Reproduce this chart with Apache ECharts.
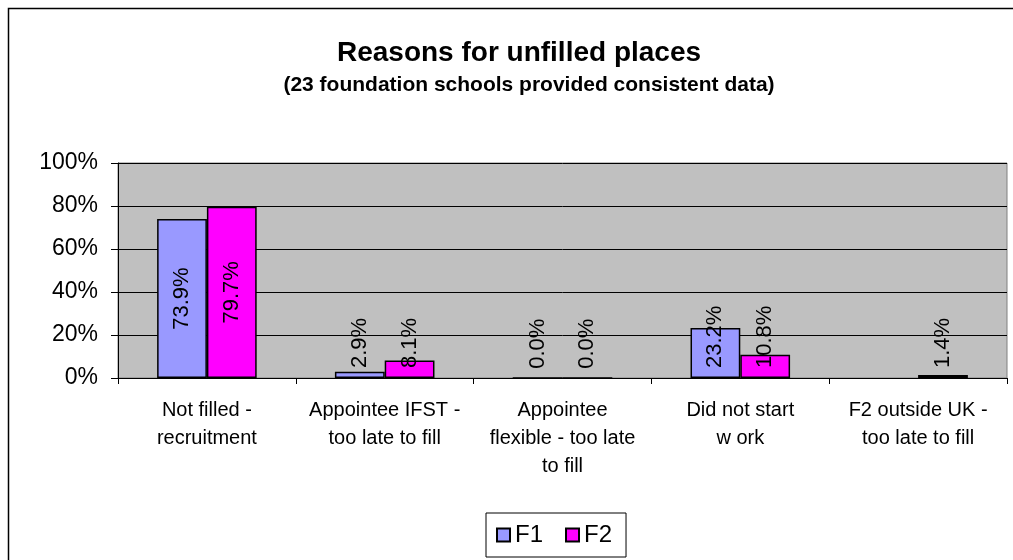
<!DOCTYPE html>
<html>
<head>
<meta charset="utf-8">
<style>
  html, body { margin: 0; padding: 0; background: #fff; }
  #chart { width: 1013px; height: 560px; }
</style>
<script src="https://cdn.jsdelivr.net/npm/echarts@6/dist/echarts.min.js"></script>
</head>
<body>
<div id="chart"></div>
<script>
// Reasons for unfilled places, F1 vs F2 (percent of unfilled places)
const categories = [
  'Not filled -\nrecruitment',
  'Appointee IFST -\ntoo late to fill',
  'Appointee\nflexible - too late\nto fill',
  'Did not start\nw ork',
  'F2 outside UK -\ntoo late to fill'
];
const f1Values = [73.9, 2.9, 0.0, 23.2, null];
const f2Values = [79.7, 8.1, 0.0, 10.8, 1.4];
const yTicks = { min: 0, max: 100, interval: 20 };

const FONT = '"Liberation Sans", Arial, sans-serif';

// Tall bars carry their label centred; short ones start it just above the axis.
function withLabels(values) {
  return values.map(v => {
    if (v === null) return null;
    const centred = v >= 40;
    return {
      value: v,
      label: centred
        ? { position: 'inside', rotate: 90, align: 'center', verticalAlign: 'middle' }
        : { position: 'insideBottom', rotate: 90, align: 'left', verticalAlign: 'middle', distance: 10 }
    };
  });
}

const barLabel = {
  show: true,
  color: '#000',
  fontFamily: FONT,
  fontSize: 22,
  formatter: p => p.value.toFixed(1) + '%'
};

const chart = echarts.init(document.getElementById('chart'), null, { renderer: 'canvas' });
chart.setOption({
  backgroundColor: '#fff',
  animation: false,
  graphic: [{
    type: 'rect',
    shape: { x: 8.5, y: 8.5, width: 2000, height: 2000 },
    style: { fill: 'none', stroke: '#000', lineWidth: 1.5 },
    silent: true
  }],
  title: [
    {
      text: 'Reasons for unfilled places',
      left: 514, top: 34, textAlign: 'center',
      textStyle: { fontFamily: FONT, fontSize: 28, fontWeight: 'bold', color: '#000' }
    },
    {
      text: '(23 foundation schools provided consistent data)',
      left: 524, top: 70, textAlign: 'center',
      textStyle: { fontFamily: FONT, fontSize: 21, fontWeight: 'bold', color: '#000' }
    }
  ],
  legend: {
    left: 486, top: 513,
    padding: [10, 14, 10, 10],
    borderColor: '#000', borderWidth: 1,
    itemWidth: 13, itemHeight: 13, itemGap: 22,
    icon: 'rect',
    textStyle: { fontFamily: FONT, fontSize: 24, color: '#000' },
    data: ['F1', 'F2']
  },
  grid: {
    left: 118, right: 6, top: 163, bottom: 182,
    show: true, backgroundColor: '#C0C0C0', borderColor: '#808080', borderWidth: 1
  },
  xAxis: {
    type: 'category',
    data: categories,
    axisLine: { lineStyle: { color: '#000', width: 1 } },
    axisTick: { show: true, length: 6, lineStyle: { color: '#000' } },
    axisLabel: {
      interval: 0, margin: 18, color: '#000',
      fontFamily: FONT, fontSize: 20, lineHeight: 28
    }
  },
  yAxis: {
    type: 'value',
    min: yTicks.min, max: yTicks.max, interval: yTicks.interval,
    axisLine: { show: true, lineStyle: { color: '#000', width: 1 } },
    axisTick: { show: true, length: 7, lineStyle: { color: '#000' } },
    axisLabel: { formatter: '{value}%', color: '#000', fontFamily: FONT, fontSize: 23, margin: 20 },
    splitLine: { lineStyle: { color: '#000', width: 1 } }
  },
  series: [
    {
      name: 'F1', type: 'bar',
      data: withLabels(f1Values),
      barGap: '0%', barCategoryGap: '44%',
      itemStyle: { color: '#9999FF', borderColor: '#000', borderWidth: 1.5 },
      label: barLabel
    },
    {
      name: 'F2', type: 'bar',
      data: withLabels(f2Values),
      barGap: '0%', barCategoryGap: '44%',
      itemStyle: { color: '#FF00FF', borderColor: '#000', borderWidth: 1.5 },
      label: barLabel
    }
  ]
});
</script>
</body>
</html>
